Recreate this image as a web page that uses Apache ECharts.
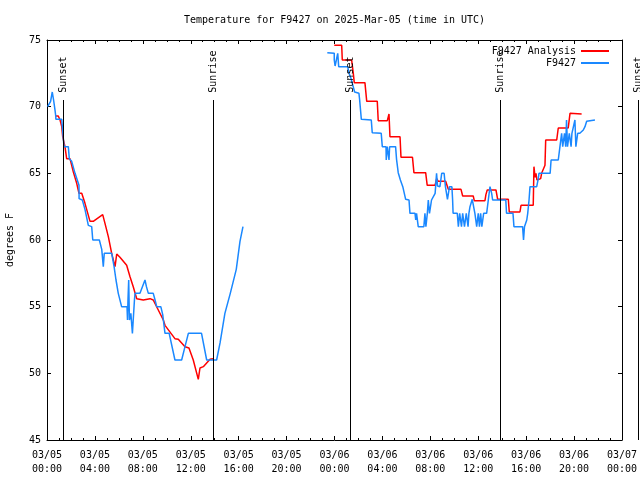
<!DOCTYPE html>
<html><head><meta charset="utf-8">
<script src="https://cdn.jsdelivr.net/npm/echarts@6/dist/echarts.min.js"></script>
<style>html,body{margin:0;padding:0;background:#fff}#c{width:640px;height:480px}</style>
</head><body><div id="c"></div>
<script>
// Hours since 2025-03-05 00:00 UTC, temperature in degrees F
const titleText = 'Temperature for F9427 on 2025-Mar-05 (time in UTC)';
const xTickLabels = ['03/05\n00:00','03/05\n04:00','03/05\n08:00','03/05\n12:00','03/05\n16:00','03/05\n20:00',
  '03/06\n00:00','03/06\n04:00','03/06\n08:00','03/06\n12:00','03/06\n16:00','03/06\n20:00','03/07\n00:00'];
const yTicks = [45, 50, 55, 60, 65, 70, 75];

const sunHours = [1.36, 13.88, 25.29, 37.85, 49.36];
const sunLabels = ['Sunset', 'Sunrise', 'Sunset', 'Sunrise', 'Sunset'];

const anaDay1 = [[0.73,69.3],[0.94,69.3],[1.09,69],[1.23,68.5],[1.31,67.75],[1.5,67],[1.64,66.1],[1.92,66.1],
  [2.2,65.1],[2.48,64.25],[2.67,63.5],[2.9,63.5],[3.17,62.75],[3.59,61.4],[3.86,61.4],[4.65,61.9],[4.84,61.25],
  [5.12,60.25],[5.4,59],[5.68,58],[5.82,58.95],[6.09,58.7],[6.65,58.1],[6.93,57.25],[7.2,56.5],[7.49,55.6],
  [8.04,55.5],[8.6,55.6],[8.87,55.5],[9.29,54.75],[9.71,54],[9.85,53.6],[10.68,52.6],[10.96,52.55],[11.52,52],
  [11.85,51.9],[12.21,51],[12.63,49.55],[12.77,50.4],[13.05,50.5],[13.61,51.05],[13.86,51.1]];

const anaDay2 = [[23.98,74.6],[24.6,74.6],[24.65,73.5],[25.43,73.5],[25.57,72.5],[25.65,71.8],[26.54,71.8],
  [26.69,70.4],[27.57,70.4],[27.65,68.95],[28.41,68.95],[28.55,69.45],[28.63,67.75],[29.47,67.75],[29.55,66.2],
  [30.51,66.2],[30.63,65.05],[31.61,65.05],[31.74,64.1],[32.39,64.1],[32.53,64.6],[32.66,64.4],[33.28,64.4],
  [33.5,63.8],[34.56,63.8],[34.7,63.3],[35.58,63.3],[35.67,62.95],[36.56,62.95],[36.64,63.4],[36.75,63.75],
  [37.48,63.75],[37.62,63.05],[38.51,63.05],[38.59,62.1],[39.48,62.1],[39.57,62.6],[40.59,62.6],[40.65,65.5],
  [40.74,64.7],[40.82,65],[40.9,64.5],[41.21,64.6],[41.29,65],[41.57,65.6],[41.63,67.5],[42.55,67.5],
  [42.68,68.4],[43.51,68.4],[43.66,69.5],[44.63,69.45]];

const obsDay1 = [[0.05,70],[0.3,70.4],[0.44,71.1],[0.55,70.5],[0.66,69.8],[0.73,69.3],[0.74,69.05],[1.23,69.05],
  [1.42,67],[1.78,67],[1.86,66.1],[2.06,65.9],[2.34,65],[2.4,65],[2.67,64.1],[2.68,63.1],[2.95,63],[3.17,62.3],
  [3.45,61.1],[3.73,61],[3.82,60],[4.37,60],[4.57,59.3],[4.7,58],[4.78,59],[5.4,59],[5.6,58],[5.76,57],
  [5.95,56],[6.23,55],[6.68,55],[6.72,54],[6.76,55.5],[6.82,57],[6.88,54],[7.0,54.5],[7.13,53],[7.3,55.5],
  [7.35,56],[7.76,56],[8.18,57],[8.3,56.5],[8.46,56],[8.87,56],[9.02,55.5],[9.16,55],[9.5,55],[9.66,54.4],
  [9.85,53],[10.2,53],[10.68,51],[11.24,51],[11.52,52],[11.8,53],[12.9,53],[13.33,51],[14.16,51],
  [14.45,52.3],[14.85,54.5],[15.3,56],[15.8,57.8],[16.11,59.9],[16.36,61]];

const obsDay2 = [[23.4,74.05],[23.98,74],[23.98,73.5],[24.05,73.05],[24.2,73],[24.27,74],[24.35,73],[25.1,73],
  [25.2,72.55],[25.4,72.05],[25.68,71.1],[26.04,71],[26.1,70.5],[26.24,69.05],[27.07,69],[27.15,68.05],
  [27.9,68],[27.99,67],[28.3,67],[28.32,66],[28.4,67],[28.55,66],[28.6,67],[29.1,67],[29.18,66.05],
  [29.32,65.05],[29.5,64.5],[29.7,64],[29.94,63.05],[30.22,63],[30.3,62],[30.72,62],[30.78,61.5],[30.85,62],
  [30.99,61],[31.46,61],[31.55,62],[31.63,61],[31.75,62],[31.83,63],[31.93,62],[32.1,63],[32.25,63],
  [32.4,63.5],[32.52,65],[32.6,64.05],[32.8,64],[32.95,65],[33.15,65],[33.26,64],[33.43,63.05],[33.6,64],
  [33.8,64],[33.86,63],[33.9,62],[34.25,62],[34.34,61],[34.45,62],[34.6,61],[34.7,62],[34.85,61],[35.0,62],
  [35.15,61],[35.22,62],[35.31,62.5],[35.5,63.05],[35.64,63],[35.72,62],[35.87,61],[36.0,62],[36.1,61],
  [36.2,62],[36.3,61],[36.45,62],[36.7,62],[36.84,63],[36.98,64],[37.12,63.5],[37.2,63],[38.3,63],
  [38.36,62],[38.9,62],[38.98,61],[39.7,61],[39.78,60],[39.86,61],[40.05,61.5],[40.13,62],[40.24,63],
  [40.32,64],[40.88,64],[41.01,64.6],[41.07,65],[42.0,65],[42.08,66],[42.68,66],[42.82,67],[42.96,68],
  [43.05,67],[43.2,68],[43.3,67],[43.37,69],[43.45,67],[43.6,68],[43.75,67],[43.82,68],[44.07,69],
  [44.15,67],[44.3,68],[44.48,68],[44.62,68],[44.77,68.25],[44.91,68.5],[45.05,68.9],[45.18,69.05],[45.74,69]];

const FONT = 'DejaVu Sans Mono';
const RED = '#ff0000', BLUE = '#1a88ff';
const sunLineTop = 70.5, sunLabelBase = 71.05;

const txt = {fontFamily: FONT, fontSize: 10, color: '#000'};
const axisLine = {show: true, onZero: false, lineStyle: {color: '#000', width: 1}};
const tick = {show: true, inside: true, length: 4, lineStyle: {color: '#000', width: 1}};
const minorTick = {show: true, splitNumber: 4, length: 2, lineStyle: {color: '#000', width: 1}};

function lineSeries(name, data, color) {
  return {name, type: 'line', data, symbol: 'none', showSymbol: false, color,
    lineStyle: {color, width: 1.5}, silent: true, z: color === BLUE ? 3 : 2};
}

const legendBase = {orient: 'vertical', align: 'right', padding: 0, icon: 'rect',
  itemWidth: 28, itemHeight: 2, selectedMode: false, textStyle: txt, right: 31};

const option = {
  animation: false,
  backgroundColor: '#fff',
  title: {text: titleText, left: 184, top: 15, padding: 0,
    textStyle: {fontFamily: FONT, fontSize: 10, fontWeight: 'normal', color: '#000'}},
  grid: {left: 47, right: 18, top: 40, bottom: 40, containLabel: false, outerBoundsMode: 'none'},
  legend: [
    Object.assign({data: ['F9427 Analysis'], top: 46}, legendBase),
    Object.assign({data: ['F9427'], top: 58}, legendBase)
  ],
  xAxis: [
    {type: 'value', min: 0, max: 48, interval: 4, position: 'bottom', axisLine, axisTick: tick, minorTick,
      splitLine: {show: false},
      axisLabel: Object.assign({margin: 8, lineHeight: 14, formatter: v => xTickLabels[Math.round(v / 4)]}, txt)},
    {type: 'value', min: 0, max: 48, interval: 4, position: 'top', axisLine, axisTick: tick, minorTick,
      splitLine: {show: false}, axisLabel: {show: false}}
  ],
  yAxis: [
    {type: 'value', min: yTicks[0], max: yTicks[yTicks.length - 1], interval: 5, position: 'left',
      axisLine, axisTick: tick, splitLine: {show: false},
      axisLabel: Object.assign({margin: 6}, txt),
      name: 'degrees F', nameLocation: 'middle', nameRotate: 90, nameGap: 32, nameTextStyle: txt},
    {type: 'value', min: yTicks[0], max: yTicks[yTicks.length - 1], interval: 5, position: 'right',
      axisLine, axisTick: tick, splitLine: {show: false}, axisLabel: {show: false}}
  ],
  series: [
    lineSeries('F9427 Analysis', anaDay1, RED),
    lineSeries('F9427 Analysis', anaDay2, RED),
    lineSeries('F9427', obsDay1, BLUE),
    lineSeries('F9427', obsDay2, BLUE)
  ]
};

const chart = echarts.init(document.getElementById('c'), null, {renderer: 'canvas'});
chart.setOption(option);

const g = [];
sunHours.forEach((h, i) => {
  const top = chart.convertToPixel({gridIndex: 0}, [h, sunLineTop]);
  const bot = chart.convertToPixel({gridIndex: 0}, [h, yTicks[0]]);
  const lab = chart.convertToPixel({gridIndex: 0}, [h, sunLabelBase]);
  const x = Math.round(top[0]) + 0.5;
  g.push({type: 'line', silent: true, z: 10,
    shape: {x1: x, y1: Math.round(top[1]), x2: x, y2: Math.round(bot[1])},
    style: {stroke: '#000', lineWidth: 1}});
  g.push({type: 'text', silent: true, z: 10, x: x, y: lab[1], rotation: Math.PI / 2,
    style: {text: sunLabels[i], fontFamily: FONT, fontSize: 10, fill: '#000',
      align: 'left', verticalAlign: 'middle', textAlign: 'left', textVerticalAlign: 'middle'}});
});
chart.setOption({graphic: g});
</script>
</body></html>
